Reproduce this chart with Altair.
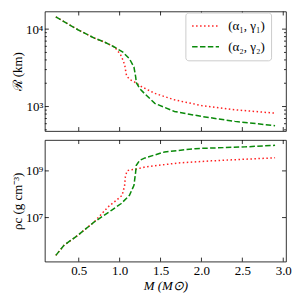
import altair as alt
import pandas as pd

# ---------------- data ----------------
series_names = ["(α₁, γ₁)", "(α₂, γ₂)"]

# top panel: radius R (km) vs mass M (M_sun)
green_M_top = [0.22, 0.49, 0.69, 0.82, 0.94, 1.04, 1.12, 1.175, 1.196, 1.204, 1.245, 1.31, 1.43, 1.67, 2.00, 2.41, 2.90]
green_R = [14400, 9820, 7670, 6760, 5840, 5040, 4140, 3240, 2420, 2030, 1710, 1450, 1100, 863, 745, 643, 566]

red_M_top = [0.22, 0.49, 0.69, 0.82, 0.94, 0.96, 1.01, 1.045, 1.065, 1.073, 1.085, 1.12, 1.18, 1.27, 1.43, 1.67, 2.00, 2.41, 2.90]
red_R = [14400, 9820, 7670, 6760, 5840, 5500, 4700, 3900, 3300, 2900, 2500, 2250, 2080, 1800, 1480, 1220, 1030, 908, 821]

# bottom panel: central density rho_c (g cm^-3) vs mass
green_M_bot = [0.22, 0.32, 0.49, 0.69, 0.90, 1.02, 1.12, 1.175, 1.196, 1.204, 1.245, 1.31, 1.55, 1.92, 2.53, 2.90]
green_rho = [2.4e5, 6.5e5, 1.75e6, 6.5e6, 2.06e7, 4.0e7, 9.0e7, 2.4e8, 9.1e8, 1.74e9, 2.84e9, 3.6e9, 6.5e9, 9.0e9, 1.07e10, 1.25e10]

red_M_bot = [0.22, 0.32, 0.49, 0.69, 0.86, 0.96, 1.03, 1.06, 1.07, 1.09, 1.13, 1.19, 1.27, 1.31, 1.72, 2.12, 2.53, 2.90]
red_rho = [2.4e5, 6.5e5, 1.75e6, 6.5e6, 2.9e7, 5.5e7, 8.9e7, 2.24e8, 5.6e8, 1.0e9, 1.12e9, 1.17e9, 1.35e9, 1.48e9, 2.19e9, 2.69e9, 3.16e9, 3.63e9]

x_ticks = [0.5, 1.0, 1.5, 2.0, 2.5, 3.0]
R_major = [1000, 10000]
R_minor = [500, 600, 700, 800, 900, 2000, 3000, 4000, 5000, 6000, 7000, 8000, 9000]
rho_major = [1e7, 1e9]

# ---------------- layout ----------------
W = 242
H1 = 120
H2 = 122
SERIF = "Liberation Serif"

df_top = pd.concat([
    pd.DataFrame({"M": red_M_top, "Y": red_R, "series": series_names[0], "idx": range(len(red_R))}),
    pd.DataFrame({"M": green_M_top, "Y": green_R, "series": series_names[1], "idx": range(len(green_R))}),
])
df_bot = pd.concat([
    pd.DataFrame({"M": red_M_bot, "Y": red_rho, "series": series_names[0], "idx": range(len(red_rho))}),
    pd.DataFrame({"M": green_M_bot, "Y": green_rho, "series": series_names[1], "idx": range(len(green_rho))}),
])

xscale = alt.Scale(domain=[0.086, 3.034], nice=False, zero=False)
yscale_top = alt.Scale(type="log", domain=[482, 16900], nice=False)
yscale_bot = alt.Scale(type="log", domain=[1.3e5, 2.1e10], nice=False)

color_scale = alt.Scale(domain=series_names, range=["#ff2020", "#0a8a0a"])
dash_scale = alt.Scale(domain=series_names, range=[[1.5, 2.5], [5.5, 2.4]])

# wide line symbol whose nominal size stays small, so the rows stay compact
legend_kw = dict(title=None, orient="none", legendX=141, legendY=1, fillColor="white",
                 strokeColor="#cccccc", padding=6, cornerRadius=3,
                 labelFont=SERIF, labelFontSize=13, labelColor="black",
                 symbolType="M-1,0H3", symbolSize=182, symbolStrokeWidth=1.5,
                 labelOffset=22, rowPadding=6)

x_axis_top = alt.Axis(labels=False, ticks=False, domain=False, grid=False, title=None)
y_axis_top = alt.Axis(values=R_major, labelExpr="datum.value >= 10000 ? '10⁴' : '10³'",
                      ticks=False, domain=False, grid=False, title="ℛ (km)",
                      labelPadding=2, titlePadding=1)
x_axis_bot = alt.Axis(values=x_ticks, format=".1f", ticks=False, domain=False, grid=False,
                      title="M (M⊙)", titleFontStyle="italic", labelPadding=3, titlePadding=2)
y_axis_bot = alt.Axis(values=rho_major, labelExpr="datum.value >= 1e9 ? '10⁹' : '10⁷'",
                      ticks=False, domain=False, grid=False, title="ρc (g cm⁻³)",
                      labelPadding=2, titlePadding=1)


def yticks(vals, length, scale, xaxis, yaxis):
    d = pd.DataFrame({"Y": vals})
    b = alt.Chart(d).mark_rule(color="black", strokeWidth=0.8)
    y = alt.Y("Y:Q", scale=scale, axis=yaxis)
    return [b.encode(y=y, x=alt.value(0), x2=alt.value(length)),
            b.encode(y=y, x=alt.value(W), x2=alt.value(W - length))]


def xticks(vals, length, H, yscale, xaxis, yaxis):
    d = pd.DataFrame({"M": vals})
    b = alt.Chart(d).mark_rule(color="black", strokeWidth=0.8)
    x = alt.X("M:Q", scale=xscale, axis=xaxis)
    return [b.encode(x=x, y=alt.value(0), y2=alt.value(length)),
            b.encode(x=x, y=alt.value(H), y2=alt.value(H - length))]


top_lines = alt.Chart(df_top).mark_line(strokeWidth=1.5).encode(
    x=alt.X("M:Q", scale=xscale, axis=x_axis_top),
    y=alt.Y("Y:Q", scale=yscale_top, axis=y_axis_top),
    color=alt.Color("series:N", scale=color_scale, legend=alt.Legend(**legend_kw)),
    strokeDash=alt.StrokeDash("series:N", scale=dash_scale, legend=alt.Legend(**legend_kw)),
    order="idx:Q",
)

top = alt.layer(
    *yticks(R_major, 4, yscale_top, x_axis_top, y_axis_top),
    *yticks(R_minor, 2, yscale_top, x_axis_top, y_axis_top),
    *xticks(x_ticks, 4, H1, yscale_top, x_axis_top, y_axis_top),
    top_lines,
).properties(width=W, height=H1)

bot_lines = alt.Chart(df_bot).mark_line(strokeWidth=1.5).encode(
    x=alt.X("M:Q", scale=xscale, axis=x_axis_bot),
    y=alt.Y("Y:Q", scale=yscale_bot, axis=y_axis_bot),
    color=alt.Color("series:N", scale=color_scale, legend=None),
    strokeDash=alt.StrokeDash("series:N", scale=dash_scale, legend=None),
    order="idx:Q",
)

bot = alt.layer(
    *yticks(rho_major, 4, yscale_bot, x_axis_bot, y_axis_bot),
    *xticks(x_ticks, 4, H2, yscale_bot, x_axis_bot, y_axis_bot),
    bot_lines,
).properties(width=W, height=H2)

chart = alt.vconcat(top, bot, spacing=7).resolve_scale(
    color="independent", strokeDash="independent"
).resolve_legend(
    color="independent", strokeDash="independent"
).properties(
    padding={"left": 3, "top": 2, "right": 0, "bottom": 0}
).configure_view(
    stroke="black", strokeWidth=0.8
).configure_axis(
    labelFont=SERIF, labelFontSize=13, labelColor="black",
    titleFont=SERIF, titleFontSize=13, titleFontWeight="normal", titleColor="black",
)

chart.save("out.html", embed_options={"renderer": "svg", "actions": False})
